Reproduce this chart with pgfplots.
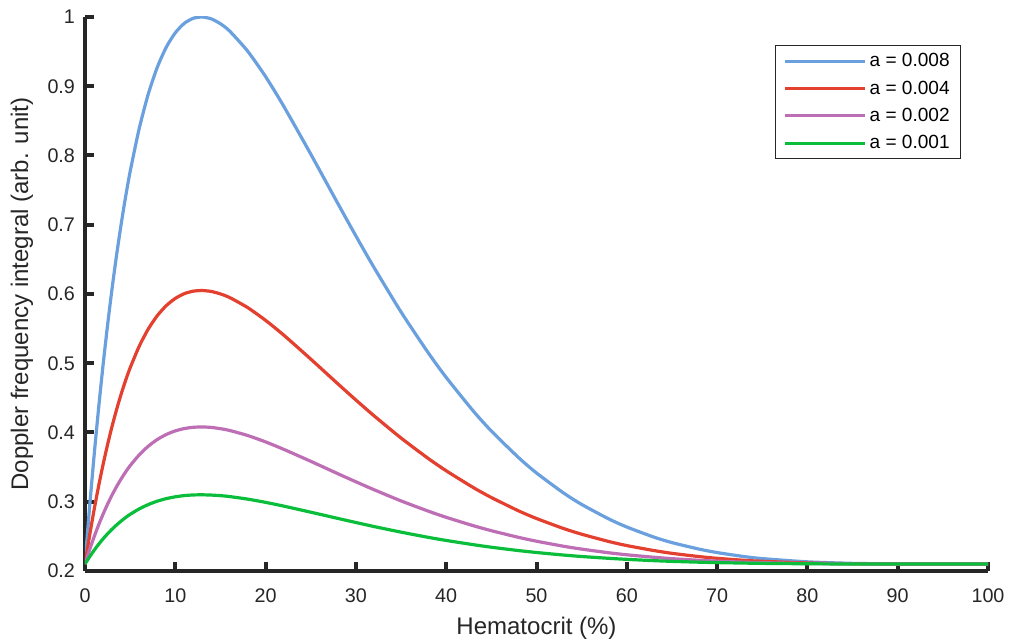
\documentclass[border=0pt]{standalone}
\usepackage{pgfplots}
\pgfplotsset{compat=1.18}
\usepackage{fontspec}
\setmainfont{Liberation Sans}
\definecolor{cblue}{RGB}{106,160,222}
\definecolor{cred}{RGB}{228,64,48}
\definecolor{cpurple}{RGB}{189,110,180}
\definecolor{cgreen}{RGB}{10,190,60}
\definecolor{axgray}{RGB}{38,38,38}
\begin{document}
\begin{tikzpicture}
\begin{axis}[
  width=677.25pt, height=415.5pt, scale only axis,
  xmin=0, xmax=100, ymin=0.2, ymax=1,
  axis x line*=bottom, axis y line*=left,
  x axis line style={line width=3.4pt, draw=axgray},
  y axis line style={line width=3.4pt, draw=axgray},
  major tick style={line width=3pt, draw=axgray},
  tick align=inside, major tick length=6.5pt,
  xtick={0,10,20,30,40,50,60,70,80,90,100},
  ytick={0.2,0.3,0.4,0.5,0.6,0.7,0.8,0.9,1},
  yticklabels={0.2,0.3,0.4,0.5,0.6,0.7,0.8,0.9,1},
  /pgf/number format/assume math mode=true,
  ticklabel style={font=\fontsize{14.8}{17}\selectfont, text=axgray},
  xticklabel style={yshift=-10pt},
  yticklabel style={xshift=-4pt},
  xlabel={Hematocrit (\%)}, ylabel={Doppler frequency integral (arb. unit)},
  every axis x label/.style={at={(axis description cs:0.5,-0.1029)}, anchor=center,
    font=\fontsize{18}{20}\selectfont, text=axgray},
  every axis y label/.style={at={(axis description cs:-0.0698,0.5)}, anchor=center, rotate=90,
    font=\fontsize{18}{20}\selectfont, text=axgray},
  legend style={at={(0.970,0.9495)}, anchor=north east, draw=axgray, line width=0.8pt,
    font=\fontsize{14.3}{16}\selectfont, row sep=5pt, inner xsep=6pt, inner ysep=4pt},
  legend cell align=left,
  legend image code/.code={\draw[#1, line width=2.4pt] (0pt,0pt) -- (60pt,0pt);},
]
\addplot[cblue, line width=2.4pt, smooth, tension=0.4] coordinates {
(0,0.21)(0.5,0.2909)(1,0.3655)(1.5,0.4341)(2,0.4972)(2.5,0.5551)(3,0.6081)(3.5,0.6564)(4,0.7005)(4.5,0.7406)
(5,0.7768)(6,0.8388)(7,0.8885)(8,0.9272)(9,0.9564)(10,0.9772)(11,0.9909)(12,0.9982)(13,1.0)(14,0.9972)
(15,0.9902)(16,0.9799)(18,0.9509)(20,0.9139)(22,0.8713)(25,0.8020)(28,0.7307)(30,0.6838)(32,0.6384)
(35,0.5740)(38,0.5153)(40,0.4795)(43,0.4310)(45,0.4021)(48,0.3639)(50,0.3415)(53,0.3126)(55,0.2961)
(58,0.2752)(60,0.2635)(63,0.2489)(65,0.2410)(68,0.2316)(70,0.2266)(73,0.2208)(75,0.2179)(80,0.2132)
(85,0.2110)(90,0.2102)(95,0.2100)(100,0.2100)};
\addlegendentry{a = 0.008}
\addplot[cred, line width=2.4pt, smooth, tension=0.4] coordinates {
(0,0.21)(0.5,0.2504)(1,0.2877)(1.5,0.3221)(2,0.3536)(2.5,0.3825)(3,0.4090)(3.5,0.4332)(4,0.4553)(4.5,0.4753)
(5,0.4934)(6,0.5244)(7,0.5493)(8,0.5686)(9,0.5832)(10,0.5936)(11,0.6005)(12,0.6041)(13,0.6050)(14,0.6036)
(15,0.6001)(16,0.5950)(18,0.5805)(20,0.5619)(22,0.5407)(25,0.5060)(28,0.4703)(30,0.4469)(32,0.4242)
(35,0.3920)(38,0.3626)(40,0.3447)(43,0.3205)(45,0.3061)(48,0.2869)(50,0.2758)(53,0.2613)(55,0.2531)
(58,0.2426)(60,0.2367)(63,0.2295)(65,0.2255)(68,0.2208)(70,0.2183)(73,0.2154)(75,0.2140)(80,0.2116)
(85,0.2105)(90,0.2101)(95,0.2100)(100,0.2100)};
\addlegendentry{a = 0.004}
\addplot[cpurple, line width=2.4pt, smooth, tension=0.4] coordinates {
(0,0.21)(0.5,0.2303)(1,0.2490)(1.5,0.2662)(2,0.2820)(2.5,0.2965)(3,0.3098)(3.5,0.3219)(4,0.3329)(4.5,0.3430)
(5,0.3521)(6,0.3676)(7,0.3801)(8,0.3898)(9,0.3971)(10,0.4023)(11,0.4057)(12,0.4075)(13,0.4080)(14,0.4073)
(15,0.4055)(16,0.4030)(18,0.3957)(20,0.3864)(22,0.3757)(25,0.3584)(28,0.3405)(30,0.3288)(32,0.3174)
(35,0.3012)(38,0.2865)(40,0.2775)(43,0.2654)(45,0.2582)(48,0.2486)(50,0.2430)(53,0.2357)(55,0.2316)
(58,0.2263)(60,0.2234)(63,0.2198)(65,0.2178)(68,0.2154)(70,0.2142)(73,0.2127)(75,0.2120)(80,0.2108)
(85,0.2103)(90,0.2100)(95,0.2100)(100,0.2100)};
\addlegendentry{a = 0.002}
\addplot[cgreen, line width=2.4pt, smooth, tension=0.4] coordinates {
(0,0.21)(0.5,0.2202)(1,0.2297)(1.5,0.2384)(2,0.2464)(2.5,0.2537)(3,0.2604)(3.5,0.2665)(4,0.2721)(4.5,0.2772)
(5,0.2818)(6,0.2896)(7,0.2959)(8,0.3008)(9,0.3045)(10,0.3071)(11,0.3089)(12,0.3098)(13,0.3100)(14,0.3096)
(15,0.3088)(16,0.3075)(18,0.3038)(20,0.2991)(22,0.2937)(25,0.2849)(28,0.2759)(30,0.2700)(32,0.2642)
(35,0.2561)(38,0.2486)(40,0.2441)(43,0.2380)(45,0.2343)(48,0.2295)(50,0.2267)(53,0.2230)(55,0.2209)
(58,0.2183)(60,0.2168)(63,0.2149)(65,0.2139)(68,0.2127)(70,0.2121)(73,0.2114)(75,0.2110)(80,0.2104)
(85,0.2101)(90,0.2100)(95,0.2100)(100,0.2100)};
\addlegendentry{a = 0.001}
\end{axis}
\path (current axis.south west) ++(-63.75pt,-54pt);
\path (current axis.north east) ++(17.25pt,12.75pt);
\end{tikzpicture}
\end{document}
